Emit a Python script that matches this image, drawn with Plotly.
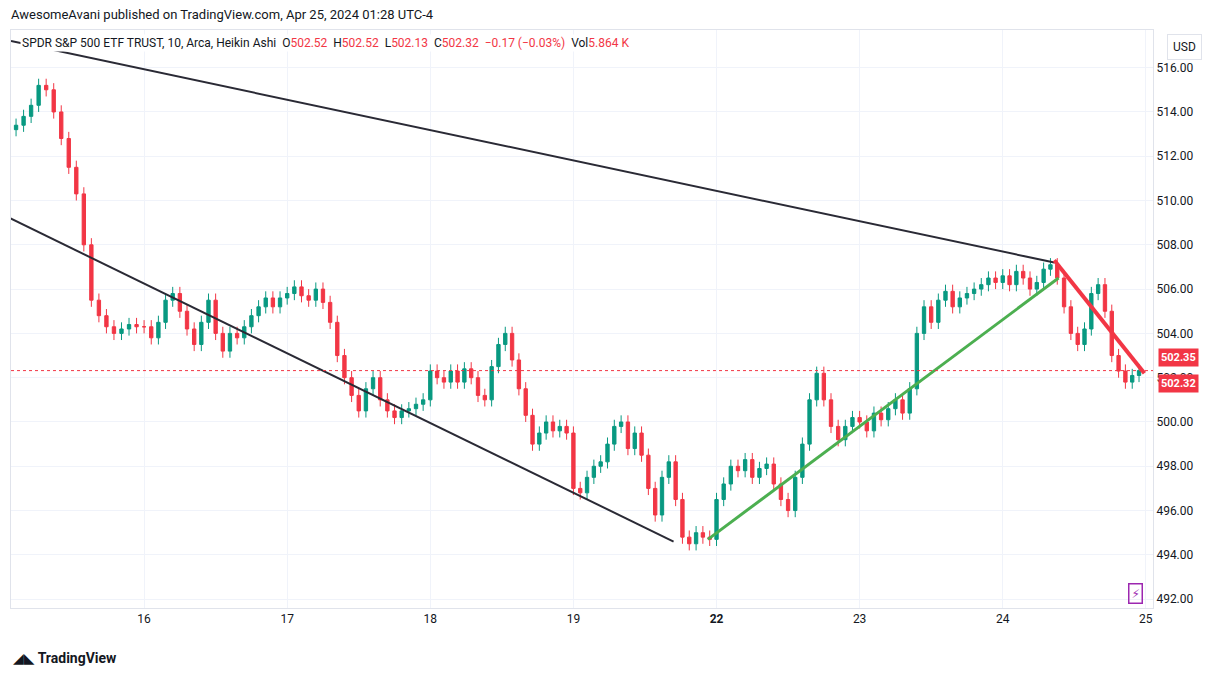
import plotly.graph_objects as go

day_labels = ["15", "16", "17", "18", "19", "22", "23", "24"]
closes_by_day = [
    [513.6,513.2,513.4,513.8,514.3,515.2,515.0,514.0,512.8,511.5,510.3,508.0,505.5,504.8,504.3,504.0,504.2,504.4,504.3],
    [504.3,503.8,504.5,505.5,505.8,505.0,504.2,503.5,504.5,505.5,504.0,503.2,504.0,503.8,504.3,504.8,505.2,505.6,505.2,505.6],
    [505.8,506.1,505.7,505.5,506.0,505.4,504.5,503.0,502.0,501.2,500.5,501.5,502.0,501.0,500.5,500.2,500.5,500.6,500.8,501.0],
    [502.3,502.0,501.8,502.3,501.8,502.4,502.0,501.2,501.0,502.5,503.5,504.0,502.8,501.5,500.3,499.0,499.5,500.0,499.6,499.8,499.5],
    [497.0,496.8,497.5,498.0,498.2,499.0,499.8,500.0,498.8,499.5,498.5,497.0,495.8,497.5,498.2,496.5,494.8,494.5,495.0,494.8,494.7],
    [496.5,497.2,498.0,497.8,498.3,497.5,497.9,498.1,497.2,496.5,496.0,497.5,499.0,501.0,502.2,501.0,499.8,499.2,499.8,500.2],
    [500.0,499.6,500.4,500.1,500.6,501.0,500.4,501.5,504.0,505.2,504.5,505.5,505.9,505.2,505.6,505.8,506.0,506.2,506.5,506.3],
    [506.6,506.2,506.8,506.5,506.0,506.3,506.9,507.1,506.5,505.2,504.0,503.5,504.2,505.8,506.2,505.0,503.0,502.3,501.8,502.1,502.32],
]
first_open = 513.3
tick_vals = [1, 2, 3, 4, 5, 6, 7, 8]
tick_text = ["16", "17", "18", "19", "<b>22</b>", "23", "24", "25"]

upper_line = ([0.07, 7.36], [517.2, 507.2])
lower_line = ([0.0, 4.7], [509.4, 494.6])
green_line = ([4.94, 7.39], [494.7, 506.5])
red_line = ([7.36, 7.99], [507.3, 502.2])
last_price = 502.32
prev_price = 502.35

x, o, h, l, c = [], [], [], [], []
prev = first_open
for d, closes in enumerate(closes_by_day):
    n = len(closes)
    for j, cl in enumerate(closes):
        x.append(d + j / n)
        op = prev
        o.append(op); c.append(cl)
        h.append(max(op, cl) + 0.3); l.append(min(op, cl) - 0.3)
        prev = cl

fig = go.Figure(go.Candlestick(
    x=x, open=o, high=h, low=l, close=c,
    increasing=dict(line=dict(color="#089981", width=1), fillcolor="#089981"),
    decreasing=dict(line=dict(color="#F23645", width=1), fillcolor="#F23645"),
    whiskerwidth=0, showlegend=False, hoverinfo="skip"))

for (lx, ly), col, w in [(upper_line, "#2a2a35", 2), (lower_line, "#2a2a35", 2),
                         (green_line, "#4caf50", 3), (red_line, "#F23645", 4)]:
    fig.add_trace(go.Scatter(x=lx, y=ly, mode="lines", line=dict(color=col, width=w),
                             showlegend=False, hoverinfo="skip"))

fig.add_hline(y=last_price, line=dict(color="#F23645", width=1, dash="dot"))

fig.update_layout(
    width=1227, height=677, margin=dict(l=3, r=82, t=22, b=77),
    paper_bgcolor="white", plot_bgcolor="white",
    font=dict(family="Roboto, DejaVu Sans", size=12, color="#131722"),
    xaxis=dict(range=[0.07, 8.05], tickvals=tick_vals, ticktext=tick_text,
               showgrid=True, gridcolor="#f0f3fa", rangeslider=dict(visible=False),
               showline=True, linecolor="#e0e3eb", mirror=True, ticks="", zeroline=False,
               automargin=False),
    yaxis=dict(side="right", range=[491.6, 517.7], dtick=2, tickformat=".2f",
               showgrid=True, gridcolor="#f0f3fa", showline=True, linecolor="#e0e3eb",
               mirror=True, ticks="", zeroline=False, automargin=False),
)

anns = [
    dict(xref="paper", yref="paper", x=-0.002, y=1.026, xanchor="left", yanchor="middle",
         text="AwesomeAvani published on TradingView.com, Apr 25, 2024 01:28 UTC-4",
         showarrow=False, font=dict(size=13, color="#131722")),
    dict(xref="paper", yref="paper", x=0.008, y=0.993, xanchor="left", yanchor="top",
         text="SPDR S&P 500 ETF TRUST, 10, Arca, Heikin Ashi  O<span style='color:#F23645'>502.52</span>  H<span style='color:#F23645'>502.52</span>  L<span style='color:#F23645'>502.13</span>  C<span style='color:#F23645'>502.32</span>  <span style='color:#F23645'>−0.17 (−0.03%)</span>  Vol<span style='color:#F23645'>5.864 K</span>",
         showarrow=False, font=dict(size=12, color="#131722"), bgcolor="white"),
    dict(xref="paper", yref="y", x=1.004, y=prev_price + 0.56, xanchor="left", yanchor="middle",
         text="<b>502.35</b>", showarrow=False, font=dict(size=11, color="white"),
         bgcolor="#F23645", borderpad=2),
    dict(xref="paper", yref="y", x=1.004, y=last_price - 0.56, xanchor="left", yanchor="middle",
         text="<b>502.32</b>", showarrow=False, font=dict(size=11, color="white"),
         bgcolor="#F23645", borderpad=2),
    dict(xref="paper", yref="paper", x=1.012, y=0.97, xanchor="left", yanchor="middle",
         text="USD", showarrow=False, font=dict(size=12), bordercolor="#e0e3eb",
         borderwidth=1, borderpad=5),
    dict(xref="paper", yref="paper", x=0.0, y=-0.087, xanchor="left", yanchor="middle",
         text="<b>◢◣ TradingView</b>", showarrow=False, font=dict(size=14, color="#131722")),
    dict(xref="paper", yref="paper", x=0.985, y=0.025, xanchor="center", yanchor="middle",
         text="⚡", showarrow=False, font=dict(size=12, color="#9c27b0"),
         bordercolor="#9c27b0", borderwidth=1.5, borderpad=2),
]
fig.update_layout(annotations=anns)
fig.write_html("out.html")
